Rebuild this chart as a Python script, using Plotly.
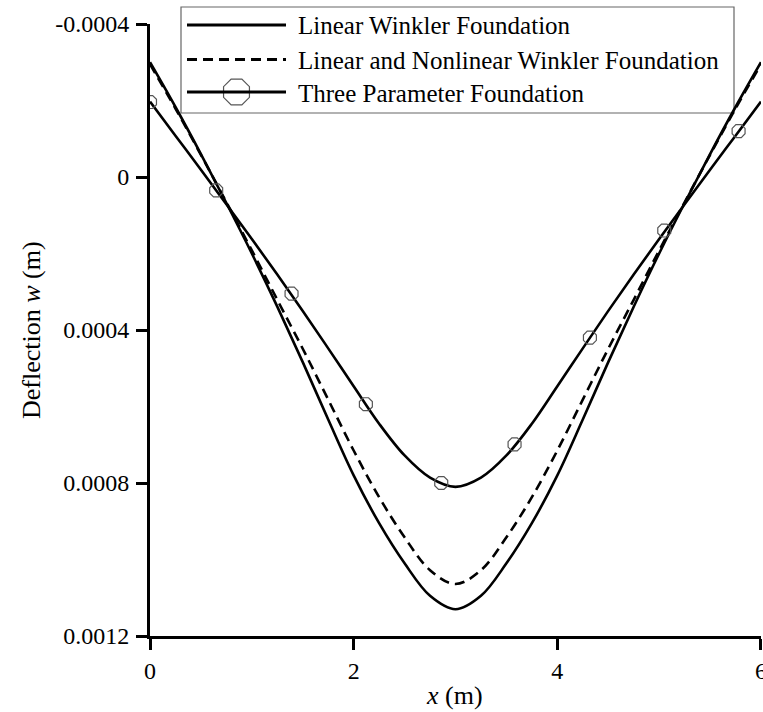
import plotly.graph_objects as go

# Beam deflection along the length for three foundation models
x_m = [0.0, 0.25, 0.5, 0.75, 1.0, 1.25, 1.5, 1.75, 2.0, 2.25, 2.5, 2.75, 3.0,
       3.25, 3.5, 3.75, 4.0, 4.25, 4.5, 4.75, 5.0, 5.25, 5.5, 5.75, 6.0]

w_linear_winkler = [-0.000300, -0.000183, -0.000060, 0.000068, 0.000200, 0.000339,
                    0.000484, 0.000634, 0.000780, 0.000905, 0.001010, 0.001095,
                    0.001130,
                    0.001095, 0.001010, 0.000905, 0.000780, 0.000634, 0.000484,
                    0.000339, 0.000200, 0.000068, -0.000060, -0.000183, -0.000300]

w_nonlinear_winkler = [-0.000295, -0.000179, -0.000058, 0.000066, 0.000192, 0.000321,
                       0.000449, 0.000582, 0.000715, 0.000837, 0.000942, 0.001028,
                       0.001064,
                       0.001028, 0.000942, 0.000837, 0.000715, 0.000582, 0.000449,
                       0.000321, 0.000192, 0.000066, -0.000058, -0.000179, -0.000295]

w_three_param = [-0.000197, -0.000108, -0.000019, 0.000071, 0.000162, 0.000255,
                 0.000350, 0.000448, 0.000547, 0.000645, 0.000728, 0.000786,
                 0.000810,
                 0.000786, 0.000728, 0.000645, 0.000547, 0.000448, 0.000350,
                 0.000255, 0.000162, 0.000071, -0.000019, -0.000108, -0.000197]

# Sampled points of the three-parameter solution shown with symbols
x_marks = [0.0, 0.65, 1.39, 2.12, 2.86, 3.58, 4.32, 5.05, 5.78]
w_marks = [-0.000196, 0.000035, 0.000305, 0.000594, 0.000800, 0.000699,
           0.000420, 0.000140, -0.000120]

x_ticks = [0, 2, 4, 6]
y_ticks = [-0.0004, 0, 0.0004, 0.0008, 0.0012]
y_tick_text = ["-0.0004", "0", "0.0004", "0.0008", "0.0012"]

series_names = ["Linear Winkler Foundation",
                "Linear and Nonlinear Winkler Foundation",
                "Three Parameter Foundation"]

# Page geometry
W, H = 763, 712
ML, MR, MT, MB = 150, 2, 24, 76
PW, PH = W - ML - MR, H - MT - MB
FONT = "Liberation Serif, Times New Roman, serif"
DASH = "10px,6px"
CURVE = dict(color="black", width=2.6, shape="spline", smoothing=1.0)


def px_x(px):
    return (px - ML) / PW


def px_y(py):
    return (H - MB - py) / PH


fig = go.Figure()

fig.add_trace(go.Scatter(x=x_m, y=w_linear_winkler, mode="lines",
                         line=CURVE, name=series_names[0]))
fig.add_trace(go.Scatter(x=x_m, y=w_nonlinear_winkler, mode="lines",
                         line=dict(CURVE, dash=DASH), name=series_names[1]))
fig.add_trace(go.Scatter(x=x_m, y=w_three_param, mode="lines",
                         line=CURVE, name=series_names[2]))
fig.add_trace(go.Scatter(x=x_marks, y=w_marks, mode="markers",
                         marker=dict(symbol="octagon-open", size=14, color="#555555",
                                     line=dict(color="#555555", width=1.2)),
                         name=series_names[2]))

# Key box with line samples
box = dict(x0=181, x1=734, y0=7, y1=113)
rows = [25, 59.5, 92]
sample_x = (187, 286)
text_x = 296

shapes = [dict(type="rect", xref="paper", yref="paper",
               x0=px_x(box["x0"]), x1=px_x(box["x1"]),
               y0=px_y(box["y1"]), y1=px_y(box["y0"]),
               line=dict(color="#666666", width=1.2), fillcolor="white", layer="below")]
dashes = ["solid", DASH, "solid"]
for ry, d in zip(rows, dashes):
    shapes.append(dict(type="line", xref="paper", yref="paper",
                       x0=px_x(sample_x[0]), x1=px_x(sample_x[1]),
                       y0=px_y(ry), y1=px_y(ry),
                       line=dict(color="black", width=3, dash=d)))

annotations = []
for ry, name in zip(rows, series_names):
    annotations.append(dict(text=name, xref="paper", yref="paper",
                            x=px_x(text_x), y=px_y(ry + 1), xanchor="left", yanchor="middle",
                            showarrow=False, font=dict(family=FONT, size=25, color="black")))

# Octagon symbol in the key, drawn on a pixel-scaled overlay axis pair
fig.add_trace(go.Scatter(x=[(sample_x[0] + sample_x[1]) / 2], y=[rows[2]], mode="markers",
                         xaxis="x2", yaxis="y2", cliponaxis=False, hoverinfo="skip",
                         marker=dict(symbol="octagon", size=28, color="white",
                                     line=dict(color="#555555", width=1.2))))

# Axis titles
annotations.append(dict(text="Deflection <i>w</i> (m)", xref="paper", yref="paper",
                        x=px_x(31), y=0.5, textangle=-90, xanchor="center", yanchor="middle",
                        showarrow=False, font=dict(family=FONT, size=26, color="black")))
annotations.append(dict(text="<i>x</i> (m)", xref="paper", yref="paper",
                        x=px_x(454), y=px_y(695), xanchor="center", yanchor="middle",
                        showarrow=False, font=dict(family=FONT, size=26, color="black")))

axis_common = dict(showgrid=False, zeroline=False, showline=True, linecolor="black",
                   linewidth=3, ticks="outside", ticklen=11, tickwidth=3, tickcolor="black",
                   ticklabeloverflow="allow", automargin=False,
                   tickfont=dict(family=FONT, size=24, color="black"))

fig.update_layout(
    width=W, height=H,
    margin=dict(l=ML, r=MR, t=MT, b=MB, autoexpand=False),
    paper_bgcolor="white", plot_bgcolor="white",
    showlegend=False,
    xaxis=dict(range=[0, 6.0001], tickvals=x_ticks, ticktext=[str(t) for t in x_ticks],
               **axis_common),
    yaxis=dict(range=[0.0012, -0.0004], tickvals=y_ticks, ticktext=y_tick_text,
               ticklabelstandoff=2, **axis_common),
    xaxis2=dict(range=[ML, W - MR], overlaying="x", visible=False, anchor="y2"),
    yaxis2=dict(range=[H - MB, MT], overlaying="y", visible=False, anchor="x2"),
    shapes=shapes,
    annotations=annotations,
)

fig.write_html("out.html")
